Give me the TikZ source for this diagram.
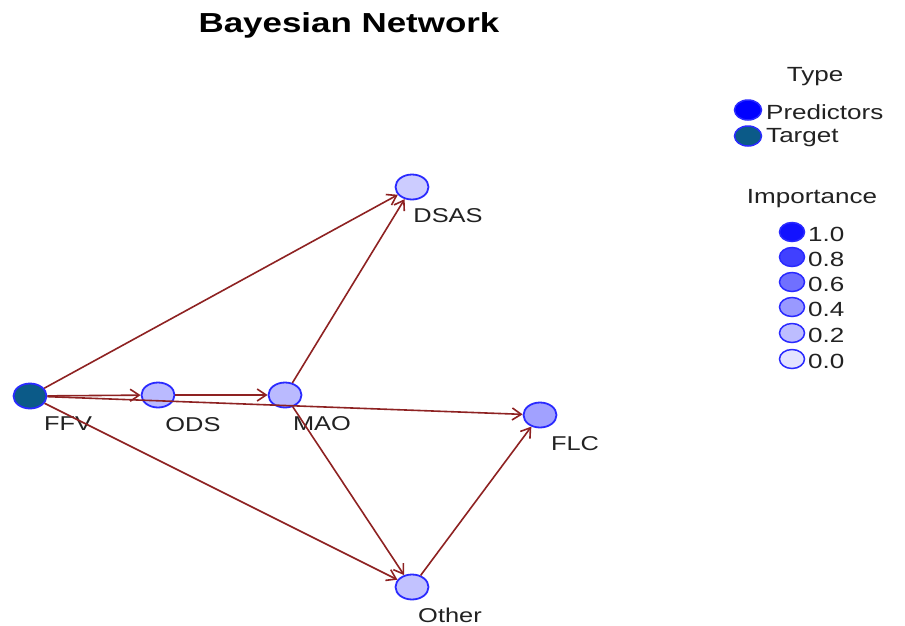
\documentclass[tikz,border=0pt]{standalone}
\usepackage{graphicx}
\usepackage{fontspec}
\setmainfont{Liberation Sans}
\usetikzlibrary{shapes.geometric,arrows.meta}

% text is set slightly widened, as in the exported chart
\newcommand\widetext[1]{\scalebox{1.27}[1]{#1}}

\definecolor{edgered}{HTML}{8E2222}
\definecolor{rimblue}{HTML}{2A2AFF}
\definecolor{targetfill}{HTML}{0B5A88}
\definecolor{txtgray}{HTML}{222222}

\tikzset{
  netnode/.style={ellipse, draw=rimblue, line width=1.8pt, inner sep=0pt,
                  minimum width=33pt, minimum height=25pt},
  keynode/.style={ellipse, draw=rimblue, line width=1.5pt, inner sep=0pt,
                  minimum width=25pt, minimum height=19pt},
  typekey/.style={ellipse, draw=rimblue, line width=1.5pt, inner sep=0pt,
                  minimum width=27pt, minimum height=20pt},
  lbl/.style={inner sep=0pt, text=txtgray, font=\fontsize{20}{22}\selectfont},
  keylbl/.style={inner sep=0pt, anchor=west, text=txtgray, font=\fontsize{20.5}{22}\selectfont},
  link/.style={draw=edgered, line width=1.6pt,
               -{Straight Barb[length=9pt,width=12pt,line width=1.6pt]}},
}

\begin{document}
\begin{tikzpicture}[x=1pt,y=-1pt]
\useasboundingbox (0,0) rectangle (905,625);
\fill[white] (0,0) rectangle (905,625);

% title
\node[inner sep=0pt, font=\fontsize{27.5}{30}\selectfont\bfseries] (title) at (349,25)
  {\widetext{Bayesian Network}};

% network nodes
\node[netnode, fill=targetfill] (FFV) at (30,396) {};
\node[netnode, fill=blue!27!white] (ODS) at (158,395) {};
\node[netnode, fill=blue!27!white] (MAO) at (285,395) {};
\node[netnode, fill=blue!20!white] (DSAS) at (412,187) {};
\node[netnode, fill=blue!37!white] (FLC) at (540,415) {};
\node[netnode, fill=blue!24!white] (Other) at (412,587) {};

% node names
\node[lbl] (FFVl) at (68,424) {\widetext{FFV}};
\node[lbl] (ODSl) at (193,425) {\widetext{ODS}};
\node[lbl] (MAOl) at (322,424) {\widetext{MAO}};
\node[lbl] (DSASl) at (448,216) {\widetext{DSAS}};
\node[lbl] (FLCl) at (575,444) {\widetext{FLC}};
\node[lbl] (Otherl) at (450,615) {\widetext{Other}};

% directed links
\draw[link] (FFV) -- (ODS);
\draw[link] (ODS) -- (MAO);
\draw[link] (FFV) -- (DSAS);
\draw[link] (MAO) -- (DSAS);
\draw[link] (FFV) -- (FLC);
\draw[link] (FFV) -- (Other);
\draw[link] (MAO) -- (Other);
\draw[link] (Other) -- (FLC);

% legend: type
\node[lbl, font=\fontsize{20.5}{22}\selectfont] (typeh) at (815,77) {\widetext{Type}};
\node[typekey, fill=blue] (kpred) at (748,110) {};
\node[keylbl] (kpredl) at (766,112) {\widetext{Predictors}};
\node[typekey, fill=targetfill] (ktarg) at (748,136) {};
\node[keylbl] (ktargl) at (766,138) {\widetext{Target}};

% legend: importance
\node[lbl, font=\fontsize{20.5}{22}\selectfont] (imph) at (812,199) {\widetext{Importance}};
\node[keynode, fill=blue!93!white] (k10) at (792,232) {};
\node[keylbl] (k10l) at (808,234) {\widetext{1.0}};
\node[keynode, fill=blue!75!white] (k08) at (792,257) {};
\node[keylbl] (k08l) at (808,259) {\widetext{0.8}};
\node[keynode, fill=blue!56!white] (k06) at (792,282) {};
\node[keylbl] (k06l) at (808,284) {\widetext{0.6}};
\node[keynode, fill=blue!40!white] (k04) at (792,307) {};
\node[keylbl] (k04l) at (808,309) {\widetext{0.4}};
\node[keynode, fill=blue!26!white] (k02) at (792,333) {};
\node[keylbl] (k02l) at (808,335) {\widetext{0.2}};
\node[keynode, fill=blue!11!white] (k00) at (792,359) {};
\node[keylbl] (k00l) at (808,361) {\widetext{0.0}};
\end{tikzpicture}
\end{document}
